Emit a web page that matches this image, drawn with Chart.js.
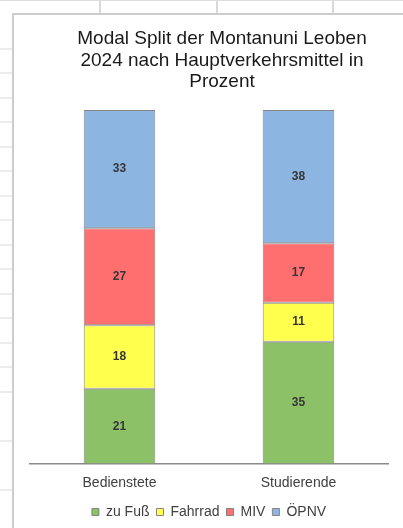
<!DOCTYPE html>
<html>
<head>
<meta charset="utf-8">
<script src="https://cdn.jsdelivr.net/npm/chart.js@4.4.1/dist/chart.umd.min.js"></script>
<style>
  html, body { margin: 0; padding: 0; width: 403px; height: 528px; overflow: hidden; background: #fff; }
  #sheet {
    position: absolute; left: 0; top: 0; width: 403px; height: 527px;
    border-top: 1px solid #dedede;
    background-image:
      repeating-linear-gradient(to bottom, transparent 0px, transparent 23.5px, #d9d9d9 23.5px, #d9d9d9 24.5px),
      linear-gradient(to right, transparent 99px, #d9d9d9 99px, #d9d9d9 101px, transparent 101px),
      linear-gradient(to right, transparent 216px, #d9d9d9 216px, #d9d9d9 218px, transparent 218px),
      linear-gradient(to right, transparent 332px, #d9d9d9 332px, #d9d9d9 334px, transparent 334px);
    background-position: 0 -0.5px, 0 0, 0 0, 0 0;
  }
  #box {
    position: absolute; left: 12px; top: 13px; width: 416px; height: 514px;
    border-left: 2px solid #cdcdcd; border-top: 2px solid #cdcdcd;
    background: #fff;
  }
  #box canvas { display: block; }
</style>
</head>
<body>
<div id="sheet"></div>
<div id="box"><canvas id="c" width="416" height="514"></canvas></div>
<script>
const categories = ['Bedienstete', 'Studierende'];
const zuFuss  = [21.3, 34.6];
const fahrrad = [17.9, 11.0];
const miv     = [27.4, 16.8];
const oepnv   = [33.4, 37.6];
const titleLines = ['Modal Split der Montanuni Leoben', '2024 nach Hauptverkehrsmittel in', 'Prozent'];

const labelPlugin = {
  id: 'segLabels',
  afterDatasetsDraw(chart) {
    const ctx = chart.ctx;
    ctx.save();
    ctx.font = 'bold 12px "Liberation Sans", Arial, sans-serif';
    ctx.fillStyle = '#363636';
    ctx.textAlign = 'center';
    ctx.textBaseline = 'middle';
    chart.data.datasets.forEach((ds, i) => {
      const meta = chart.getDatasetMeta(i);
      meta.data.forEach((bar, j) => {
        const p = bar.getProps(['x', 'y', 'base'], true);
        ctx.fillText(String(Math.round(ds.data[j])), p.x, (p.y + p.base) / 2);
      });
    });
    ctx.restore();
  }
};

const border = '#858585';
const font = '"Liberation Sans", Arial, sans-serif';
new Chart(document.getElementById('c'), {
  type: 'bar',
  data: {
    labels: categories,
    datasets: [
      { label: 'zu Fuß',  data: zuFuss,  backgroundColor: '#8cc168', borderColor: border, borderWidth: 1, borderSkipped: false },
      { label: 'Fahrrad', data: fahrrad, backgroundColor: '#ffff4d', borderColor: border, borderWidth: 1, borderSkipped: false },
      { label: 'MIV',     data: miv,     backgroundColor: '#ff6f6f', borderColor: border, borderWidth: 1, borderSkipped: false },
      { label: 'ÖPNV',    data: oepnv,   backgroundColor: '#8db5e1', borderColor: border, borderWidth: 1, borderSkipped: false }
    ]
  },
  options: {
    responsive: false,
    animation: false,
    devicePixelRatio: 1,
    layout: { padding: { left: 16, right: 16, top: 0, bottom: 0 } },
    datasets: { bar: { categoryPercentage: 1, barPercentage: 0.4 } },
    scales: {
      x: {
        stacked: true,
        grid: { display: false, drawTicks: false },
        border: { display: true, color: '#8a8a8a', width: 1.5 },
        ticks: { color: '#404040', padding: 11, font: { family: font, size: 14 } },
        afterFit(scale) { scale.height = scale.height - 5; }
      },
      y: { stacked: true, min: 0, max: 100, display: false },
      yRight: {
        position: 'right', display: true,
        grid: { display: false, drawTicks: false },
        border: { display: false },
        ticks: { display: false },
        afterFit(scale) { scale.width = 26; }
      }
    },
    plugins: {
      title: {
        display: true,
        text: titleLines,
        color: '#1a1a1a',
        font: { family: font, size: 19, weight: 'normal', lineHeight: 1.13 },
        padding: { top: 13.5, bottom: 17.1 }
      },
      legend: {
        position: 'bottom',
        fullSize: false,
        labels: {
          color: '#404040',
          boxWidth: 7, boxHeight: 7, padding: 7,
          font: { family: font, size: 14 }
        }
      },
      tooltip: { enabled: false }
    }
  },
  plugins: [labelPlugin]
});
</script>
</body>
</html>
